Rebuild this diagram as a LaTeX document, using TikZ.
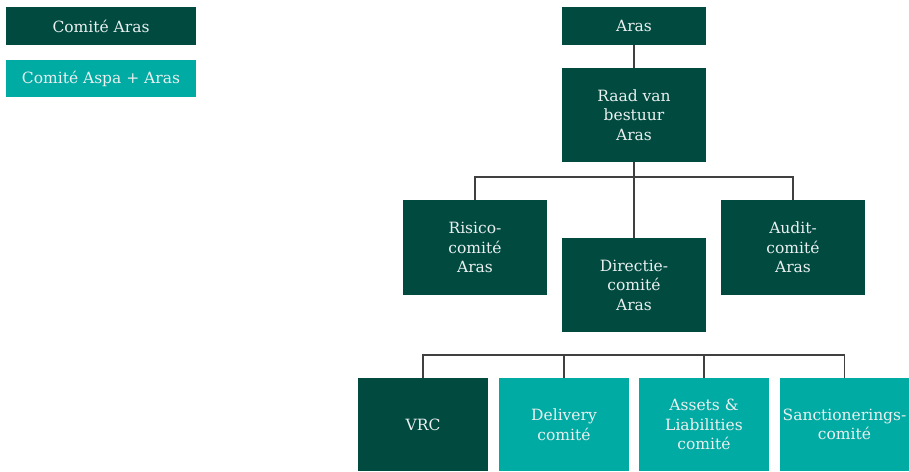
\documentclass[tikz,border=0pt]{standalone}
\usepackage{fontspec}
\setmainfont{DejaVu Serif}
\usetikzlibrary{calc}
\definecolor{arasgreen}{HTML}{004A3F}
\definecolor{aspateal}{HTML}{00ABA3}

\begin{document}
\begin{tikzpicture}[x=1pt,y=-1pt,
        box/.style={rectangle, inner sep=0pt, text=white!92!arasgreen, align=center, font=\fontsize{15.5}{19.5}\selectfont},
        dark/.style={box, fill=arasgreen},
        light/.style={box, fill=aspateal},
        link/.style={draw=black!75, line width=1.1pt}]
                \useasboundingbox (0,0) rectangle (909,471);
                % legende
                \node[dark, minimum width=190, minimum height=38] (legA) at (101,26) {Comité Aras};
                \node[light, minimum width=190, minimum height=37] (legB) at (101,78.5) {Comité Aspa + Aras};
                % bovenste lagen
                \node[dark, minimum width=144, minimum height=38] (aras) at (634,26) {Aras};
                \node[dark, minimum width=144, minimum height=94] (raad) at (634,115) {Raad van\\bestuur\\Aras};
                \node[dark, minimum width=144, minimum height=95] (risk) at (475,247.5) {Risico-\\comité\\Aras};
                \node[dark, minimum width=144, minimum height=95] (audit) at (793,247.5) {Audit-\\comité\\Aras};
                \node[dark, minimum width=144, minimum height=94] (dir) at (634,285) {Directie-\\comité\\Aras};
                % comités onder directie
                \node[dark, minimum width=130, minimum height=93] (vrc) at (423,424.5) {VRC};
                \node[light, minimum width=130, minimum height=93] (del) at (564,424.5) {Delivery\\comité};
                \node[light, minimum width=130, minimum height=93] (alc) at (704,424.5) {Assets \&\\Liabilities\\comité};
                \node[light, minimum width=129, minimum height=93] (sanc) at (844.5,424.5) {Sanctionerings-\\comité};
                \coordinate (h1) at (634,177);
                \coordinate (h2) at (634,355);
                \draw[link] (aras) -- (raad);
                \draw[link] (raad) -- (dir);
                \draw[link] (risk.north) |- (h1) -| (audit.north);
                \draw[link] (vrc.north) |- (h2) -| (sanc.north);
                \draw[link] (del.north) -- (del.north |- h2);
                \draw[link] (alc.north) -- (alc.north |- h2);
            \end{tikzpicture}
\end{document}
